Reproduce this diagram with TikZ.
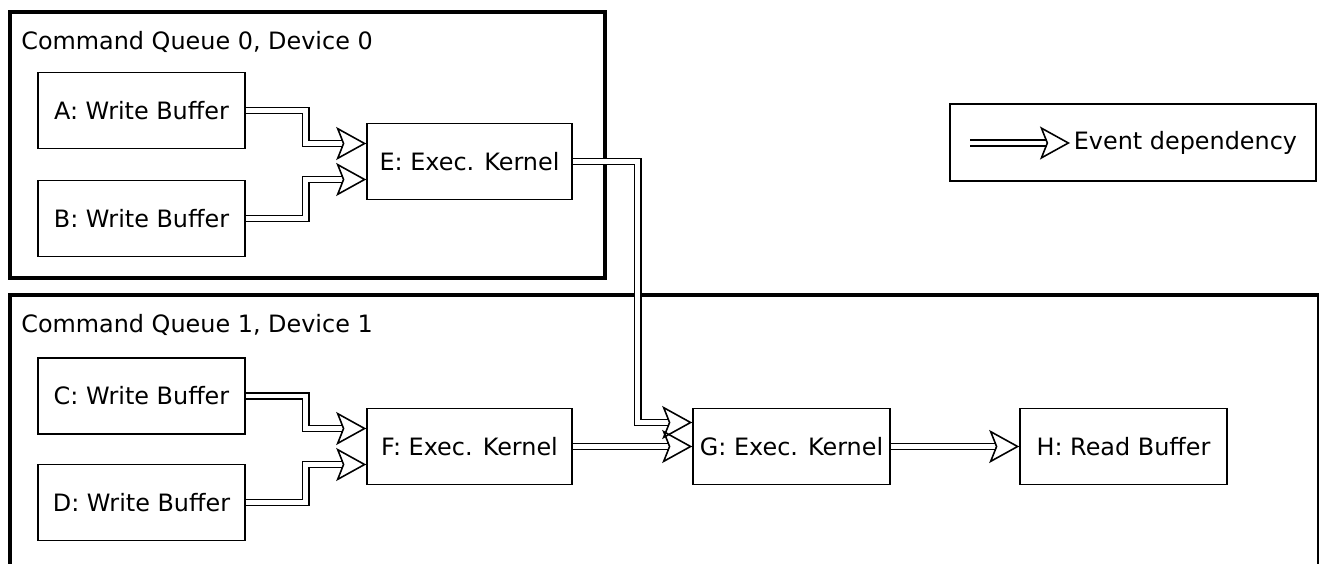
\documentclass[tikz,border=0pt]{standalone}
\usepackage{fontspec}
\setmainfont{DejaVu Sans}
\usetikzlibrary{arrows.meta,positioning,calc}

\begin{document}
\begin{tikzpicture}[
  x=0.02cm, y=-0.02cm,
  font=\fontsize{13.6pt}{16pt}\selectfont,
  cmd/.style={rectangle, draw, line width=0.9pt, minimum width=4.14cm, minimum height=1.52cm, inner sep=2pt},
  queue/.style={line width=1.9pt},
  dep/.style={double, double distance=2.7pt, line width=0.9pt,
              -{Stealth[open, length=0.6cm, width=0.66cm, inset=0.13cm]}}
]
\useasboundingbox (0,0) rectangle (1319,564);

% command queue 0
\draw[queue] (10,12) rectangle (605,278);
\node[anchor=west, inner sep=0pt] (q0) at (21,42) {Command Queue 0, Device 0};
\node[cmd] (A) at (141.5,110.5) {A: Write Buffer};
\node[cmd] (B) at (141.5,218.5) {B: Write Buffer};
\node[cmd, minimum width=4.1cm] (E) at (469.5,161.5) {E: Exec. Kernel};

% command queue 1
\draw[queue] (10,570) |- (1318.8,295) -- (1318.8,570);
\node[anchor=west, inner sep=0pt] (q1) at (21,325) {Command Queue 1, Device 1};
\node[cmd] (C) at (141.5,396) {C: Write Buffer};
\node[cmd] (D) at (141.5,502.5) {D: Write Buffer};
\node[cmd, minimum width=4.1cm] (F) at (469.5,446.5) {F: Exec. Kernel};
\node[cmd, minimum width=3.94cm] (G) at (791.5,446.5) {G: Exec. Kernel};
\node[cmd] (H) at (1123.5,446.5) {H: Read Buffer};

% legend
\node[cmd, minimum width=7.32cm, minimum height=1.54cm] (key) at (1133,142.5) {};
\coordinate (k0) at (970,143);
\coordinate (k1) at (1070,143);
\node[anchor=west, inner sep=2pt] (keytext) at (k1) {Event dependency};

% dependencies
\draw[dep] (A.east) -- ++(60,0) |- ([yshift=0.36cm]E.west);
\draw[dep] (B.east) -- ++(60,0) |- ([yshift=-0.36cm]E.west);
\draw[dep] (E.east) -- ++(65,0) |- ([yshift=0.48cm]G.west);
\draw[dep] (C.east) -- ++(60,0) |- ([yshift=0.36cm]F.west);
\draw[dep] (D.east) -- ++(60,0) |- ([yshift=-0.36cm]F.west);
\draw[dep] (F) -- (G);
\draw[dep] (G) -- (H);
\draw[dep] (k0) -- (k1);
\end{tikzpicture}
\end{document}
